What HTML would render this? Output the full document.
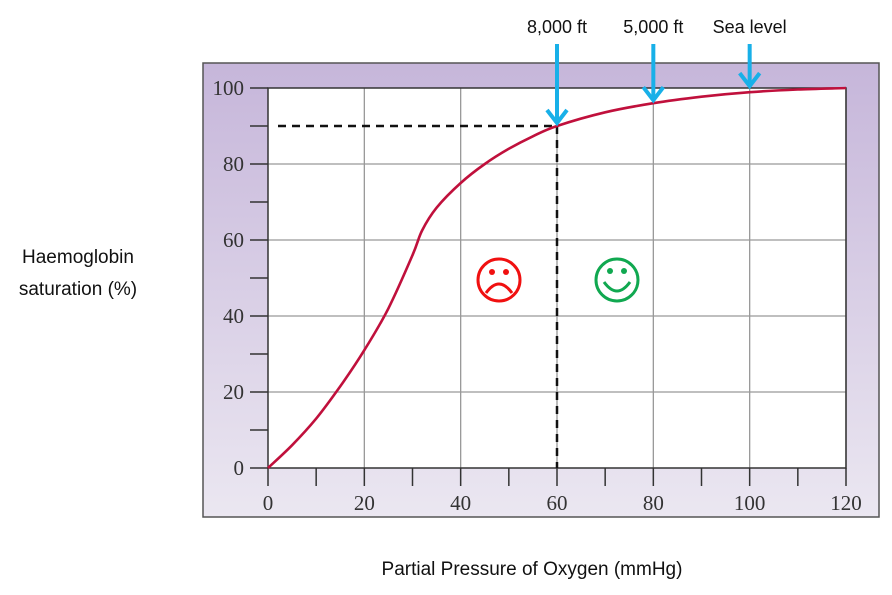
<!DOCTYPE html>
<html><head><meta charset="utf-8"><style>
body{margin:0;background:#fff;}
svg{display:block;}
.t{font-family:"Liberation Serif",serif;font-size:21px;fill:#333;}
.s{font-family:"Liberation Sans",sans-serif;fill:#111;}
</style></head><body>
<svg width="892" height="595" xmlns="http://www.w3.org/2000/svg">
<defs>
<linearGradient id="bg" x1="0" y1="0" x2="0" y2="1">
<stop offset="0" stop-color="#c6b6da"/><stop offset="1" stop-color="#ebe7f1"/>
</linearGradient>
</defs>
<rect x="203" y="63" width="676" height="454" fill="url(#bg)" stroke="#555" stroke-width="1.5"/>
<rect x="268" y="88" width="578" height="380" fill="#fff"/>
<g id="grid"></g>
<g id="axes"></g>
<g id="marks"></g>
<text class="s" x="78" y="263" font-size="19" text-anchor="middle">Haemoglobin</text>
<text class="s" x="78" y="295" font-size="19" text-anchor="middle">saturation (%)</text>
<text class="s" x="532" y="575" font-size="19" text-anchor="middle">Partial Pressure of Oxygen  (mmHg)</text>
<g stroke="#f01010" fill="none" stroke-width="3">
<circle cx="499" cy="280" r="21"/>
<circle cx="492" cy="272" r="3" fill="#f01010" stroke="none"/><circle cx="506" cy="272" r="3" fill="#f01010" stroke="none"/>
<path d="M486 293 Q499 275 512 293"/>
</g>
<g stroke="#10a850" fill="none" stroke-width="3">
<circle cx="617" cy="280" r="21"/>
<circle cx="610" cy="271" r="3" fill="#10a850" stroke="none"/><circle cx="624" cy="271" r="3" fill="#10a850" stroke="none"/>
<path d="M604 282 Q617 300 630 282"/>
</g>
</svg>
<script>
const xTicks=[0,20,40,60,80,100,120];
const yTicks=[0,20,40,60,80,100];
const curveP=[0,5,10,15,20,25,30,32,35,40,45,50,55,60,70,80,90,100,110,120];
const curveS=[0,6,13,21.5,31,42,56,62.5,68.5,75,80,84,87.3,90,93.6,96,97.7,98.9,99.6,100];
const arrowLabels=["8,000 ft","5,000 ft","Sea level"];
const arrowP=[60,80,100];
const arrowTipS=[90,96,99.7];
const refP=60, refS=90;
const X=v=>268+v*(578/120), Y=v=>468-v*3.8;
const NS="http://www.w3.org/2000/svg";
function mk(p,tag,a){const e=document.createElementNS(NS,tag);for(const k in a)e.setAttribute(k,a[k]);p.appendChild(e);return e;}
const grid=document.getElementById('grid'),axes=document.getElementById('axes'),marks=document.getElementById('marks');
xTicks.forEach(v=>{if(v>0){const l=mk(grid,'line',{x1:X(v),x2:X(v),y1:88,y2:468,stroke:'#999','stroke-width':1.3});

}
const t=mk(axes,'text',{x:X(v),y:510,'text-anchor':'middle',class:'t'});t.textContent=v;

});
yTicks.forEach(v=>{if(v>0&&v<100){const l=mk(grid,'line',{x1:268,x2:846,y1:Y(v),y2:Y(v),stroke:'#999','stroke-width':1.3});

}
const t=mk(axes,'text',{x:244,y:Y(v)+7,'text-anchor':'end',class:'t'});t.textContent=v;

});
mk(axes,'rect',{x:268,y:88,width:578,height:380,fill:'none',stroke:'#333','stroke-width':1.5});
for(let v=0;v<=120;v+=10){mk(axes,'line',{x1:X(v),x2:X(v),y1:468,y2:486,stroke:'#333','stroke-width':1.5});}
for(let v=0;v<=100;v+=10){mk(axes,'line',{x1:250,x2:268,y1:Y(v),y2:Y(v),stroke:'#333','stroke-width':1.5});}
const h=mk(marks,'line',{x1:278,x2:X(refP),y1:Y(refS),y2:Y(refS),stroke:'#111','stroke-width':2.5,'stroke-dasharray':'8,6'});


const v=mk(marks,'line',{x1:X(refP),x2:X(refP),y1:Y(refS),y2:468,stroke:'#111','stroke-width':2.5,'stroke-dasharray':'8,6'});


const pts=curveP.map((p,i)=>[X(p),Y(curveS[i])]);
let d='M'+pts[0][0].toFixed(1)+' '+pts[0][1].toFixed(1);
for(let i=0;i<pts.length-1;i++){const p0=pts[Math.max(0,i-1)],p1=pts[i],p2=pts[i+1],p3=pts[Math.min(pts.length-1,i+2)];
const c1=[p1[0]+(p2[0]-p0[0])/6,p1[1]+(p2[1]-p0[1])/6],c2=[p2[0]-(p3[0]-p1[0])/6,p2[1]-(p3[1]-p1[1])/6];
d+=`C${c1[0].toFixed(1)} ${c1[1].toFixed(1)} ${c2[0].toFixed(1)} ${c2[1].toFixed(1)} ${p2[0].toFixed(1)} ${p2[1].toFixed(1)}`;}
const c=mk(marks,'path',{d:d,fill:'none',stroke:'#c0103c','stroke-width':2.6,'stroke-linejoin':'round'});


arrowP.forEach((p,i)=>{const g=mk(marks,'g',{});


const x=X(p),ty=Y(arrowTipS[i])-3;
mk(g,'line',{x1:x,x2:x,y1:44,y2:ty-2,stroke:'#18b0e8','stroke-width':4});
mk(g,'path',{d:`M${x-10} ${ty-13} L${x} ${ty} L${x+10} ${ty-13}`,fill:'none',stroke:'#18b0e8','stroke-width':4});
const t=mk(g,'text',{x:x,y:33,'text-anchor':'middle',class:'s','font-size':18});t.textContent=arrowLabels[i];

});
</script>
</body></html>
